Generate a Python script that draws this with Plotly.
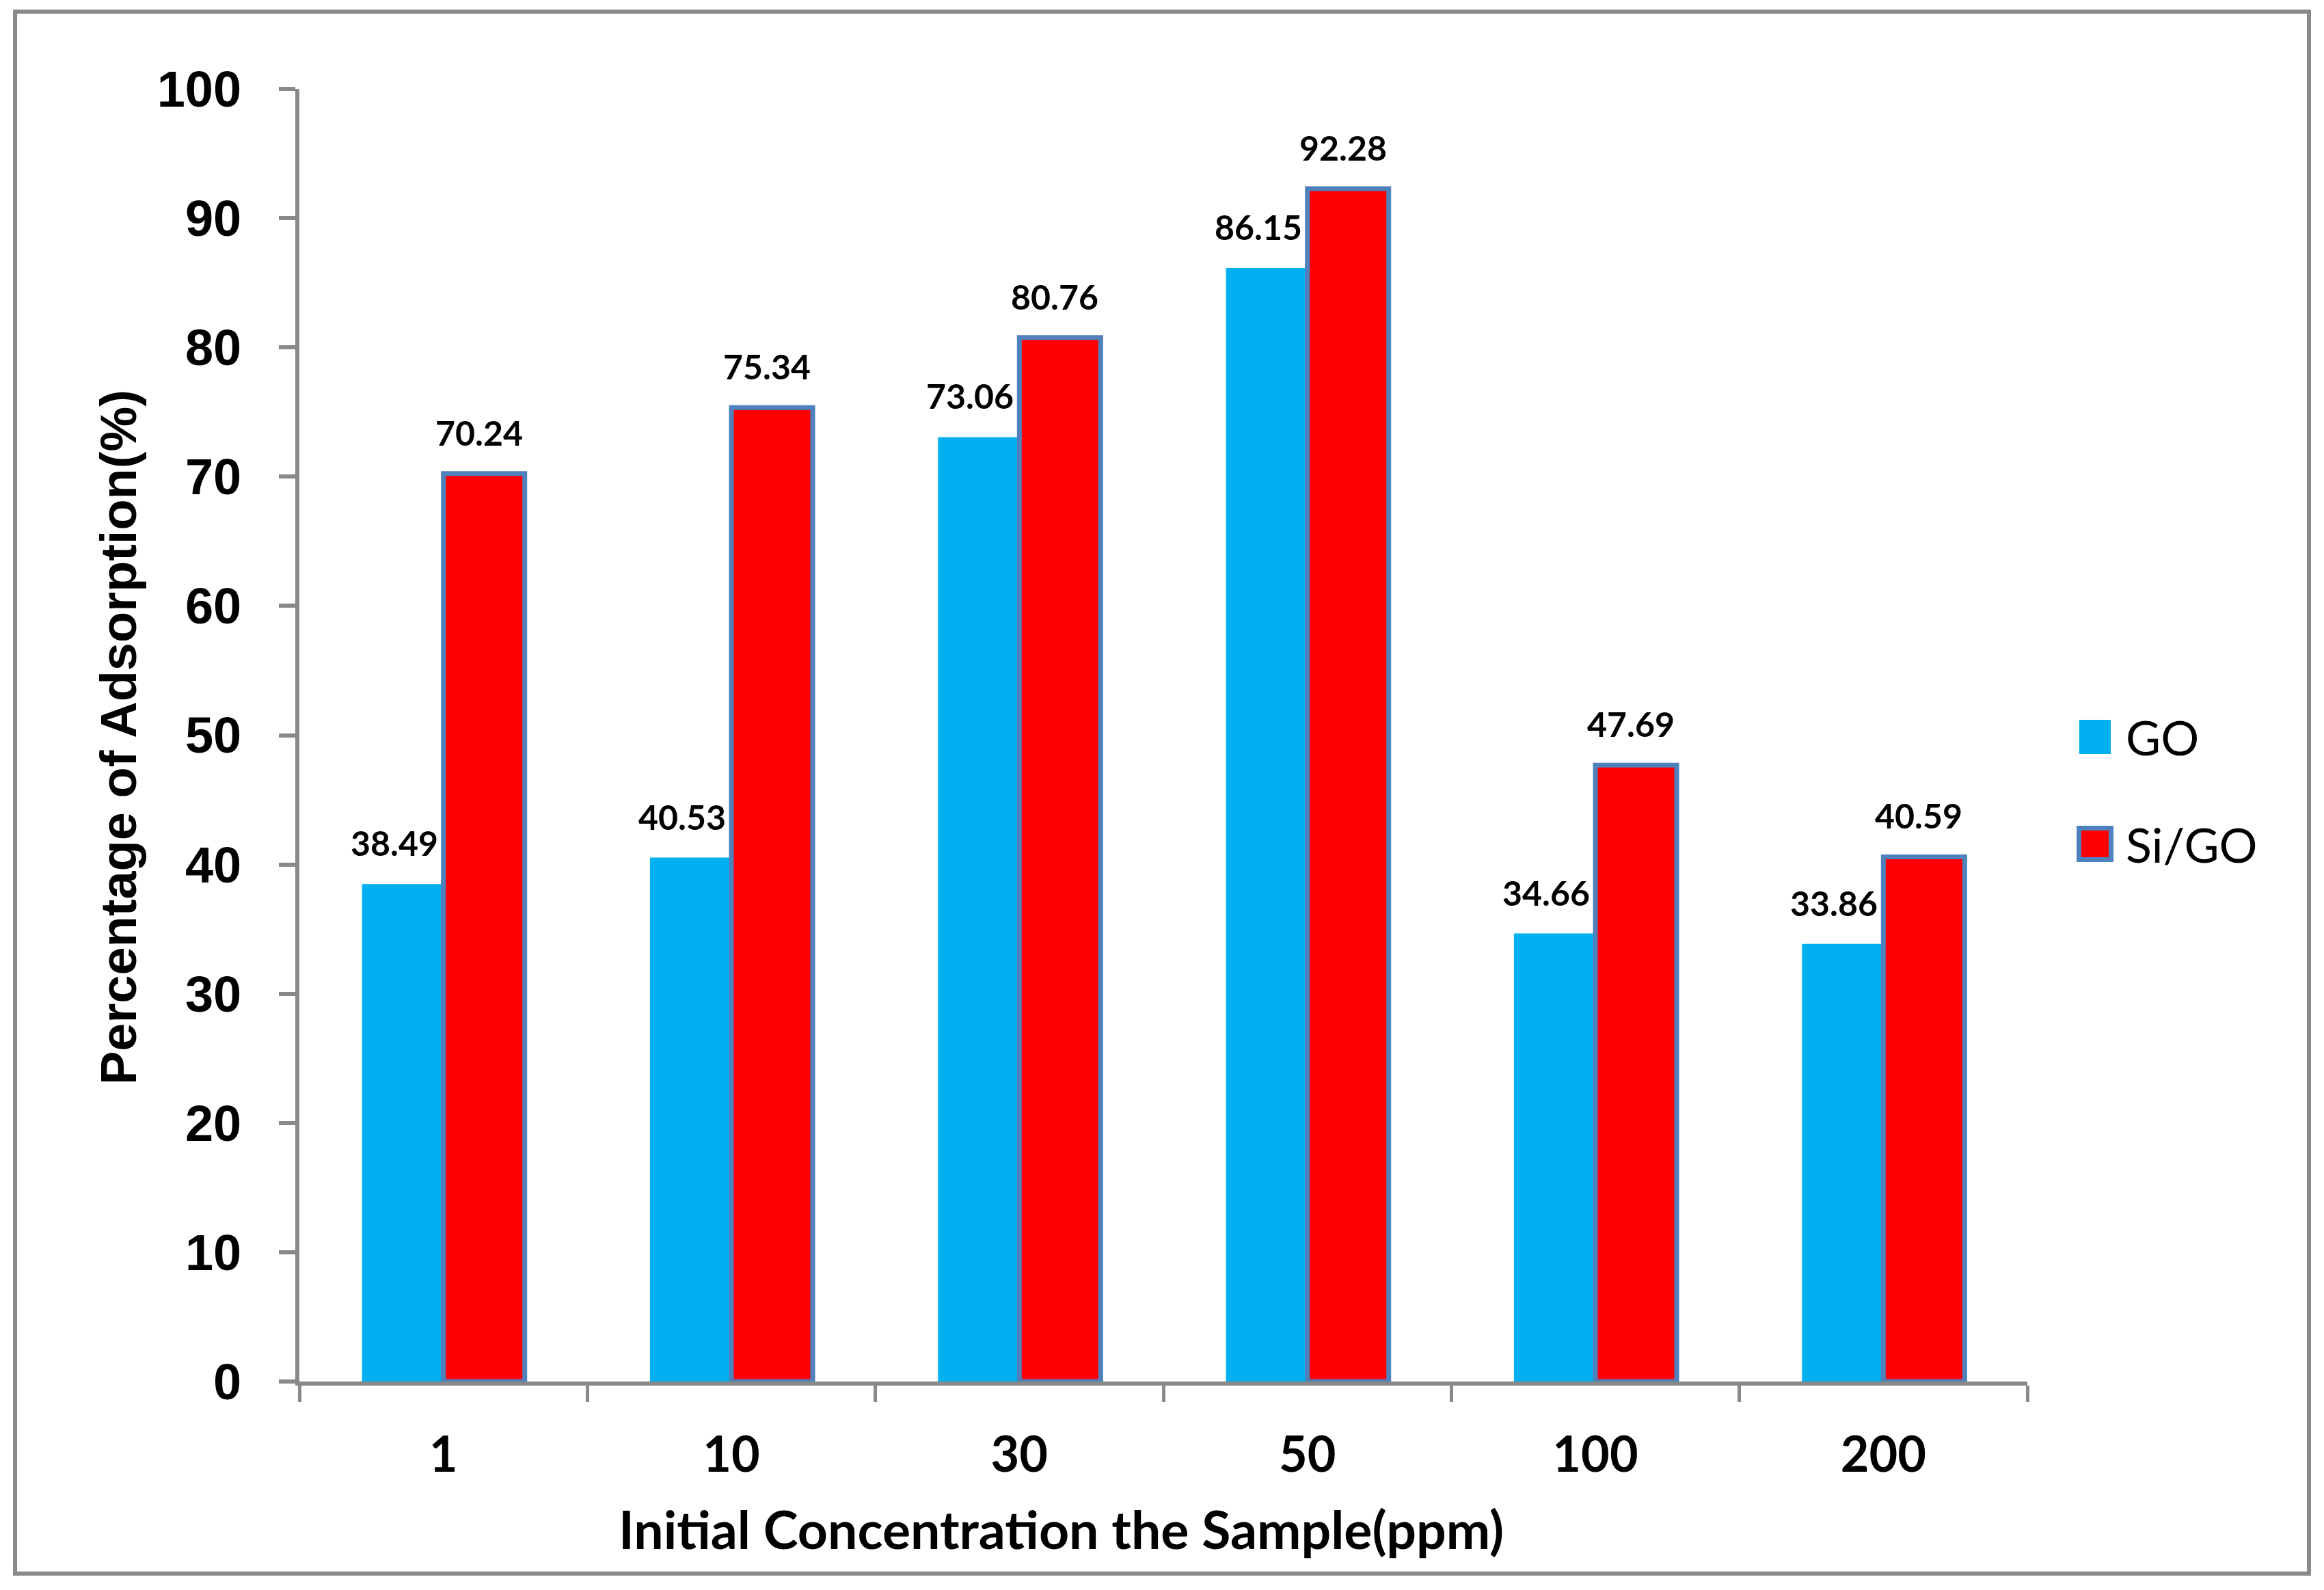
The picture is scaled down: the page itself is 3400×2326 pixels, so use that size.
import plotly.graph_objects as go

# ---- data ----
categories = ["1", "10", "30", "50", "100", "200"]
go_values = [38.49, 40.53, 73.06, 86.15, 34.66, 33.86]
sigo_values = [70.24, 75.34, 80.76, 92.28, 47.69, 40.59]
series_names = ["GO", "Si/GO"]
y_ticks = [0, 10, 20, 30, 40, 50, 60, 70, 80, 90, 100]

# ---- layout constants (pixels) ----
W, H = 3400, 2326
L, R, T, B = 438, 2966, 130, 2021
PW, PH = R - L, B - T

def px(x):
    return (x - L) / PW

def py(y):
    return (B - y) / PH

GRAY = "#898989"
C_GO = "#00B0F0"
C_SI = "#FF0000"
C_EDGE = "#4F81BD"

fig = go.Figure()
fig.add_trace(go.Bar(x=categories, y=go_values, name=series_names[0],
                     marker=dict(color=C_GO, line=dict(width=0))))
fig.add_trace(go.Bar(x=categories, y=sigo_values, name=series_names[1],
                     marker=dict(color=C_SI, line=dict(color=C_EDGE, width=7))))

annotations = []
lab_font = dict(family="Lato", size=50, color="black", weight="bold")
for i, v in enumerate(go_values):
    annotations.append(dict(x=i, y=v, xref="x", yref="y", text=f"{v:.2f}",
                            showarrow=False, xshift=-72, yshift=28,
                            yanchor="bottom", font=lab_font))
for i, v in enumerate(sigo_values):
    annotations.append(dict(x=i, y=v, xref="x", yref="y", text=f"{v:.2f}",
                            showarrow=False, xshift=52, yshift=28,
                            yanchor="bottom", font=lab_font))

# axis titles
annotations.append(dict(x=px(173), y=py(1079), xref="paper", yref="paper",
                        text="Percentage of Adsorption(%)", textangle=-90,
                        showarrow=False, xanchor="center", yanchor="middle",
                        font=dict(family="Liberation Sans", size=74, color="black", weight="bold")))
annotations.append(dict(x=px(1552), y=py(2236), xref="paper", yref="paper",
                        text="Initial Concentration the Sample(ppm)",
                        showarrow=False, xanchor="center", yanchor="middle",
                        font=dict(family="Lato", size=77, color="black", weight="bold")))

# legend text
leg_font = dict(family="Lato", size=70, color="black")
annotations.append(dict(x=px(3108), y=py(1078), xref="paper", yref="paper",
                        text=series_names[0], showarrow=False, xanchor="left",
                        yanchor="middle", font=leg_font))
annotations.append(dict(x=px(3108), y=py(1235), xref="paper", yref="paper",
                        text=series_names[1], showarrow=False, xanchor="left",
                        yanchor="middle", font=leg_font))

shapes = [
    # outer frame
    dict(type="rect", xref="paper", yref="paper",
         x0=px(22), x1=px(3378), y0=py(2302), y1=py(17),
         line=dict(color=GRAY, width=6), fillcolor="rgba(0,0,0,0)", layer="below"),
    # legend keys
    dict(type="rect", xref="paper", yref="paper",
         x0=px(3042), x1=px(3088), y0=py(1103), y1=py(1053),
         line=dict(width=0), fillcolor=C_GO),
    dict(type="rect", xref="paper", yref="paper",
         x0=px(3041.5), x1=px(3088.5), y0=py(1257.5), y1=py(1211.5),
         line=dict(color=C_EDGE, width=7), fillcolor=C_SI),
]

fig.update_layout(
    width=W, height=H,
    margin=dict(l=L, r=W - R, t=T, b=H - B, pad=0),
    paper_bgcolor="white", plot_bgcolor="white",
    barmode="group", bargap=0.435, bargroupgap=0,
    showlegend=False,
    annotations=annotations, shapes=shapes,
    xaxis=dict(type="category", range=[-0.5, len(categories) - 0.5],
               showline=True, linecolor=GRAY, linewidth=6,
               ticks="outside", tickson="boundaries", ticklen=24, tickwidth=5,
               tickcolor=GRAY, showgrid=False, zeroline=False, tickangle=0,
               tickfont=dict(family="Lato", size=72, color="black", weight="bold"),
               ticklabelstandoff=40),
    yaxis=dict(range=[0, 100], tickvals=y_ticks, showline=True, linecolor=GRAY,
               linewidth=6, ticks="outside", ticklen=24, tickwidth=6,
               tickcolor=GRAY, showgrid=False, zeroline=False,
               tickfont=dict(family="Liberation Sans", size=74, color="black", weight="bold"),
               ticklabelstandoff=40),
)

fig.write_html("out.html", config={"displayModeBar": False},
               post_script="document.body.style.margin='0';document.body.style.overflow='hidden';")
